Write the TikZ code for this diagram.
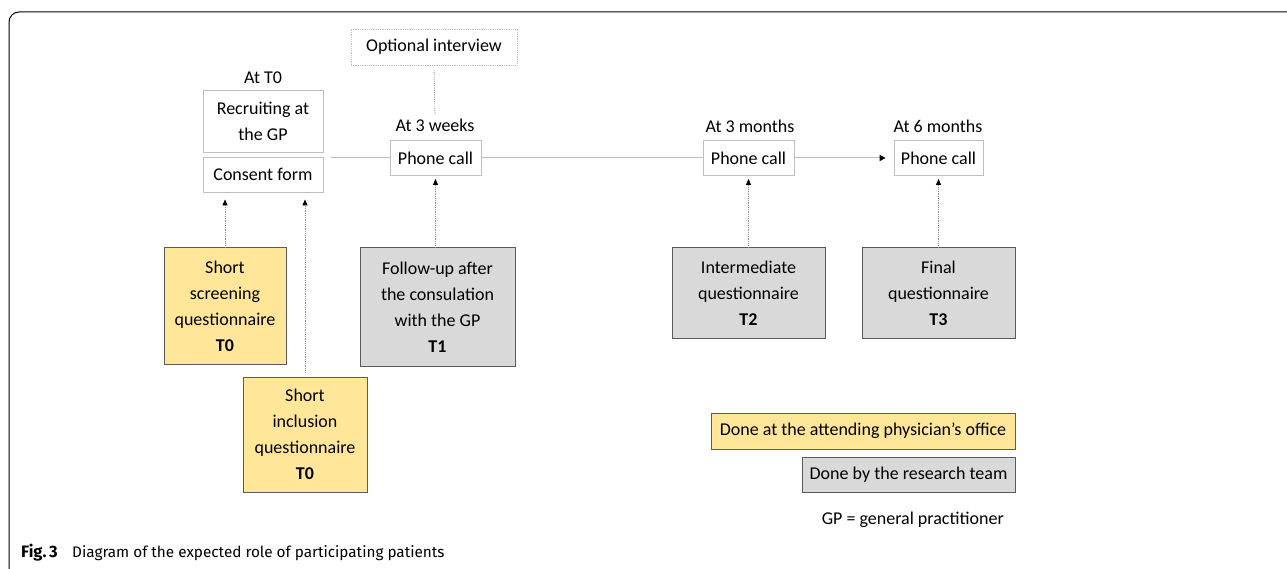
\documentclass[tikz,border=0pt]{standalone}
\usepackage{fontspec}
\setmainfont{Carlito}
\newfontfamily\capfont{Fira Sans}
\usetikzlibrary{arrows.meta}
\definecolor{yel}{HTML}{FFE699}
\definecolor{gry}{HTML}{D9D9D9}
\definecolor{bord}{HTML}{5A5A5A}
\definecolor{lbord}{HTML}{BFBFBF}
\definecolor{dline}{HTML}{8C8C8C}
\definecolor{hline}{HTML}{BDBDBD}
\begin{document}
\begin{tikzpicture}[x=1pt,y=-1pt,
  every node/.style={font=\fontsize{18}{26}\selectfont, inner sep=0pt, align=center},
  wbox/.style={draw=lbord, line width=0.8pt, fill=white},
  obox/.style={draw=lbord, line width=0.8pt, densely dotted},
  ybox/.style={draw=bord, line width=1pt, fill=yel},
  gbox/.style={draw=bord, line width=1pt, fill=gry},
  lbl/.style={},
  darr/.style={draw=dline, densely dotted, line width=0.8pt, -{Triangle[length=6pt,width=5pt,color=black]}},
  dln/.style={draw=dline, densely dotted, line width=0.8pt},
  tl/.style={draw=hline, line width=1pt},
  tla/.style={draw=hline, line width=1pt, -{Triangle[length=6pt,width=6pt,color=black]}}
]
\useasboundingbox (0,0) rectangle (1287,569);
% frame
\draw[line width=1pt, rounded corners=10pt] (1287,12) -- (9,12) -- (9,569);

% top
\node[obox, minimum width=166pt, minimum height=36pt] (opt) at (434,47) {Optional interview};
\node[lbl] (at0) at (263,78) {At T0};
\node[wbox, minimum width=120pt, minimum height=62pt] (recruit) at (263,121) {Recruiting at\\the GP};
\node[wbox, minimum width=120pt, minimum height=35pt] (consent) at (263,174.5) {Consent form};
\node[lbl] (atw) at (435,125) {At 3 weeks};
\node[wbox, minimum width=91pt, minimum height=35pt] (pc1) at (435.5,158) {Phone call};
\node[lbl] (atm) at (750,126) {At 3 months};
\node[wbox, minimum width=91pt, minimum height=35pt] (pc2) at (748.5,158) {Phone call};
\node[lbl] (at6) at (938,126) {At 6 months};
\node[wbox, minimum width=89pt, minimum height=35pt] (pc3) at (938.5,158) {Phone call};
\coordinate (tstart) at (331,158);

% bottom boxes
\node[ybox, minimum width=122pt, minimum height=116pt] (screen) at (225,306) {Short\\screening\\questionnaire\\\textbf{T0}};
\node[ybox, minimum width=124pt, minimum height=115pt] (incl) at (305,434.5) {Short\\inclusion\\questionnaire\\\textbf{T0}};
\node[gbox, minimum width=155pt, minimum height=118pt] (follow) at (437.5,307) {Follow-up after\\the consulation\\with the GP\\\textbf{T1}};
\node[gbox, minimum width=153pt, minimum height=90pt] (inter) at (748.5,293) {Intermediate\\questionnaire\\\textbf{T2}};
\node[gbox, minimum width=153pt, minimum height=90pt] (final) at (938.5,293) {Final\\questionnaire\\\textbf{T3}};

% legend
\node[ybox, minimum width=304pt, minimum height=36pt] (ly) at (863,431) {Done at the attending physician’s office};
\node[gbox, minimum width=213pt, minimum height=35pt] (lg) at (908.5,474.5) {Done by the research team};
\node[anchor=base east] (gp) at (1004,524) {GP = general practitioner};

% caption
\node[anchor=base west, font=\capfont\fontsize{16.5}{18}\selectfont\bfseries] (fig) at (21,557.5) {Fig.\,3};
\node[anchor=base west, font=\capfont\fontsize{15.3}{18}\selectfont] (cap) at (72,557.5) {Diagram of the expected role of participating patients};

% timeline
\draw[tl] (tstart) -- (pc1.west);
\draw[tl] (pc1.east) -- (pc2.west);
\draw[tla, shorten >=8pt] (pc2.east) -- (pc3.west);

% dotted connectors
\draw[dln, shorten <=5pt, shorten >=3pt] (opt.south) -- (atw.north);
\draw[darr, shorten >=7pt] (screen.north) -- (screen.north |- consent.south);
\draw[darr, shorten <=4pt, shorten >=7pt] (incl.north) -- (incl.north |- consent.south);
\draw[darr, shorten >=3pt] (pc1.south |- follow.north) -- (pc1.south);
\draw[darr, shorten >=3pt] (pc2.south |- inter.north) -- (pc2.south);
\draw[darr, shorten >=3pt] (pc3.south |- final.north) -- (pc3.south);
\end{tikzpicture}
\end{document}
